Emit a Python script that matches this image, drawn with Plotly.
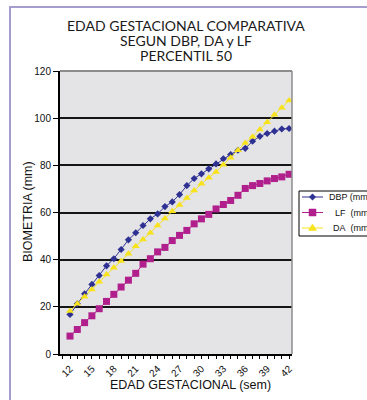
import plotly.graph_objects as go

# Gestational age (weeks)
weeks = list(range(12, 43))

# Percentile-50 biometry (mm)
dbp = [16.8, 21.3, 25.5, 29.5, 33.3, 37.4, 40.4, 44.3, 48.4, 51.4, 54.5,
       57.3, 59.4, 62.5, 64.5, 67.6, 71.4, 74.4, 76.4, 78.5, 80.6, 82.8,
       84.6, 86.4, 87.2, 90.2, 92.3, 93.5, 94.5, 95.4, 95.6]
lf = [7.6, 10.4, 13.3, 16.2, 19.2, 22.3, 25.3, 28.4, 31.3, 34.2, 38.1,
      40.4, 43.3, 45.2, 48.1, 50.3, 52.4, 55.2, 57.3, 59.2, 61.5, 63.4,
      65.1, 67.3, 70.2, 71.4, 72.3, 73.4, 74.4, 75.1, 76.2]
da = [18.2, 21.3, 24.3, 27.4, 30.6, 33.7, 36.6, 39.4, 42.5, 45.7, 48.6,
      51.4, 54.5, 57.5, 60.5, 63.2, 66.2, 69.3, 72.2, 74.7, 77.2, 80.3,
      83.2, 86.4, 89.5, 92.1, 95.2, 98.3, 101.5, 104.4, 107.5]

x_ticks = list(range(12, 43, 3))
y_ticks = [0, 20, 40, 60, 80, 100, 120]

series_names = ["DBP (mm)", "LF\u00a0 (mm)", "DA\u00a0 (mm)"]
colors = ["#2e3192", "#b01f8c", "#f7e21b"]

W, H = 367, 400
ML, MR, MT, MB = 60, 75, 71, 46
PW, PH = W - ML - MR, H - MT - MB


def px(p):
    return (p - ML) / PW


def py(p):
    return (H - MB - p) / PH


fig = go.Figure()
fig.add_trace(go.Scatter(
    x=weeks, y=dbp, mode="lines+markers", name=series_names[0],
    line=dict(color=colors[0], width=1),
    marker=dict(symbol="diamond", size=5.5, color=colors[0]),
))
fig.add_trace(go.Scatter(
    x=weeks, y=lf, mode="lines+markers", name=series_names[1],
    line=dict(color=colors[1], width=1),
    marker=dict(symbol="square", size=7, color=colors[1]),
))
fig.add_trace(go.Scatter(
    x=weeks, y=da, mode="lines+markers", name=series_names[2],
    line=dict(color=colors[2], width=1),
    marker=dict(symbol="triangle-up", size=7, color=colors[2]),
))

axis_font = dict(family="Arial, Liberation Sans, sans-serif", size=10, color="#111")

fig.update_layout(
    width=W, height=H,
    margin=dict(l=ML, r=MR, t=MT, b=MB),
    paper_bgcolor="white",
    plot_bgcolor="#e4e4e6",
    showlegend=False,
    xaxis=dict(
        range=[10.63, 42.4], tickvals=x_ticks, ticktext=[str(v) for v in x_ticks],
        tickangle=-45, ticks="outside", ticklen=3, tickcolor="black",
        minor=dict(dtick=1, tick0=12, ticks="outside", ticklen=3, tickcolor="black"),
        showgrid=False, zeroline=False,
        showline=True, linecolor="black", linewidth=2,
        tickfont=axis_font,
    ),
    yaxis=dict(
        range=[0, 120], tickvals=y_ticks,
        ticks="outside", ticklen=5, tickcolor="black",
        showgrid=True, gridcolor="#151515", gridwidth=1.8,
        zeroline=False,
        showline=True, linecolor="black", linewidth=2,
        tickfont=axis_font,
    ),
)

shapes = []
# outer frame
shapes.append(dict(type="rect", xref="paper", yref="paper",
                   x0=px(10), x1=px(W + 40), y0=py(H + 40), y1=py(7),
                   line=dict(color="#a79cce", width=2), layer="below"))
# top and right plot border
shapes.append(dict(type="line", xref="paper", yref="paper",
                   x0=0, x1=1, y0=1, y1=1, line=dict(color="#8c8c8c", width=2)))
shapes.append(dict(type="line", xref="paper", yref="paper",
                   x0=1, x1=1, y0=0, y1=1, line=dict(color="#8c8c8c", width=1.5)))

# legend box
shapes.append(dict(type="rect", xref="paper", yref="paper",
                   x0=px(299), x1=px(W + 40), y0=py(236), y1=py(191),
                   line=dict(color="black", width=1), fillcolor="white"))

annotations = []
rows = [197, 212.5, 228]
text_x = [327, 332.5, 330.5]
sym_cx = 312.5
for i, (name, col, ry) in enumerate(zip(series_names, colors, rows)):
    shapes.append(dict(type="line", xref="paper", yref="paper",
                       x0=px(302), x1=px(323), y0=py(ry), y1=py(ry),
                       line=dict(color=col, width=1)))
    if i == 0:
        r = 3.2
        path = (f"M {px(sym_cx - r)} {py(ry)} L {px(sym_cx)} {py(ry - r)} "
                f"L {px(sym_cx + r)} {py(ry)} L {px(sym_cx)} {py(ry + r)} Z")
    elif i == 1:
        r = 3.5
        path = (f"M {px(sym_cx - r)} {py(ry - r)} L {px(sym_cx + r)} {py(ry - r)} "
                f"L {px(sym_cx + r)} {py(ry + r)} L {px(sym_cx - r)} {py(ry + r)} Z")
    else:
        r = 4
        path = (f"M {px(sym_cx - r)} {py(ry + 2.5)} L {px(sym_cx + r)} {py(ry + 2.5)} "
                f"L {px(sym_cx)} {py(ry - 4)} Z")
    shapes.append(dict(type="path", xref="paper", yref="paper", path=path,
                       fillcolor=col, line=dict(color=col, width=0.5)))
    annotations.append(dict(
        text=name, xref="paper", yref="paper", x=px(text_x[i]), y=py(ry),
        xanchor="left", yanchor="middle", showarrow=False,
        font=dict(family="Arial, Liberation Sans, sans-serif", size=9, color="#111"),
    ))

# title lines
title_font = dict(family="Lato, Open Sans, sans-serif", size=14, color="#1a1a1a")
for txt, cy in [("EDAD GESTACIONAL COMPARATIVA", 25.5),
                ("SEGUN DBP, DA y LF", 40.5),
                ("PERCENTIL 50", 55.5)]:
    annotations.append(dict(text=txt, xref="paper", yref="paper",
                            x=px(185.5), y=py(cy), xanchor="center", yanchor="middle",
                            showarrow=False, font=title_font))

# axis titles
annotations.append(dict(text="EDAD GESTACIONAL (sem)", xref="paper", yref="paper",
                        x=px(190.5), y=py(385), xanchor="center", yanchor="middle",
                        showarrow=False,
                        font=dict(family="Arial, Liberation Sans, sans-serif", size=12.5, color="#111")))
annotations.append(dict(text="BIOMETRIA (mm)", xref="paper", yref="paper",
                        x=px(28), y=py(212), xanchor="center", yanchor="middle",
                        textangle=-90, showarrow=False,
                        font=dict(family="Arial, Liberation Sans, sans-serif", size=12.5, color="#111")))

fig.update_layout(shapes=shapes, annotations=annotations)

fig.write_html("out.html")
